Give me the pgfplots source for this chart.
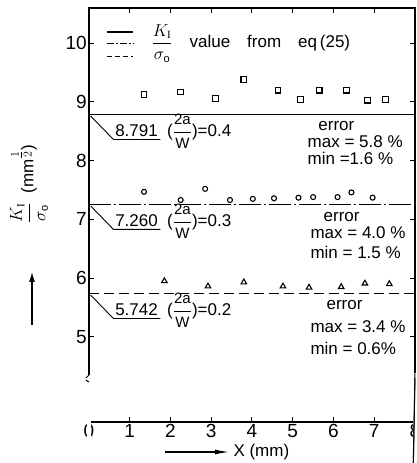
\documentclass[border=0pt]{standalone}
\usepackage{pgfplots}
\pgfplotsset{compat=1.18}
\usepackage{amsmath}
\usepackage{fontspec}
\setmainfont{Liberation Sans}
\newfontfamily\serf{Liberation Serif}
\usetikzlibrary{arrows.meta}
\newcommand\fr[2]{(\ensuremath{\dfrac{\text{\fontsize{15}{15}\selectfont #1}}{\text{\fontsize{15}{15}\selectfont #2}}})}
\newcommand\kfr{\ensuremath{\dfrac{K_\text{\serf\fontsize{11}{11}\selectfont I}}{\sigma_\text{\fontsize{11}{11}\selectfont o}}}}
\begin{document}
\begin{tikzpicture}[font=\fontsize{17}{20}\selectfont]
\begin{axis}[at={(0,0)},anchor=south west, scale only axis, width=326pt, height=414pt,
 xmin=0,xmax=8,ymin=3.55,ymax=10.6,
 xtick={0,...,8}, ytick={5,...,10},
 tick align=inside, major tick length=5pt,
 axis line style={line width=1.3pt}, tick style={line width=1pt,black},
 ticklabel style={font=\fontsize{19}{20}\selectfont, inner sep=2pt},
 /pgf/number format/assume math mode=true,
 clip=false,
 ]
% reference lines
\addplot[black, line width=1.2pt] coordinates {(0,8.791) (8,8.791)};
\addplot[black, line width=1.2pt, dash pattern=on 22pt off 3pt on 2pt off 3pt] coordinates {(0,7.260) (8,7.260)};
\addplot[black, line width=1.2pt, dash pattern=on 10pt off 5pt] coordinates {(0,5.742) (8,5.742)};
% data 2a/W = 0.4
\addplot[only marks, mark=square, mark size=2.8pt, mark options={line width=1.1pt}] coordinates {
(1.35,9.13) (2.25,9.17) (3.11,9.06) (3.80,9.38) (4.64,9.20) (5.19,9.04) (5.65,9.20) (6.32,9.20) (6.84,9.03) (7.28,9.04)};
% 0.3
\addplot[only marks, mark=o, mark size=2.5pt, mark options={line width=1.1pt}] coordinates {
(1.35,7.47) (2.25,7.33) (2.85,7.52) (3.46,7.33) (4.02,7.35) (4.54,7.36) (5.14,7.37) (5.50,7.38) (6.10,7.38) (6.44,7.46) (6.96,7.37)};
% 0.2
\addplot[only marks, mark=triangle, mark size=3.2pt, mark options={line width=1.1pt}] coordinates {
(1.85,5.95) (2.92,5.86) (3.80,5.93) (4.76,5.86) (5.40,5.84) (6.19,5.85) (6.77,5.91) (7.37,5.90)};
% legend
\addplot[black, line width=1.2pt] coordinates {(0.44,10.19) (1.09,10.19)};
\addplot[black, line width=1.2pt, dash pattern=on 7pt off 2pt on 2pt off 2pt] coordinates {(0.44,10.0) (1.09,10.0)};
\addplot[black, line width=1.2pt, dash pattern=on 5pt off 3pt] coordinates {(0.44,9.77) (1.09,9.77)};
\node[anchor=west] at (axis cs:1.45,10.0) {\kfr\quad value\quad from\quad eq\,(25)};
% leaders
\foreach \v/\lab/\r in {8.791/8.791/0.4, 7.260/7.260/0.3, 5.742/5.742/0.2}{
  \edef\temp{\noexpand\draw[line width=0.9pt] (axis cs:0.04,\v-0.03) -- (axis cs:0.6,\v-0.43) -- (axis cs:1.75,\v-0.43);
  \noexpand\node[anchor=base west, inner sep=0pt] at (axis cs:0.64,\v-0.38) {\lab\ \ \noexpand\fr{2a}{W}=\r};}
  \temp
}
% errors
\node at (axis cs:6.07,8.59) {error};
\node[anchor=west] at (axis cs:5.28,8.32) {max = 5.8 \%};
\node[anchor=west] at (axis cs:5.28,8.03) {min =1.6 \%};
\node at (axis cs:6.2,7.04) {error};
\node[anchor=west] at (axis cs:5.35,6.77) {max = 4.0 \%};
\node[anchor=west] at (axis cs:5.35,6.44) {min = 1.5 \%};
\node at (axis cs:6.27,5.54) {error};
\node[anchor=west] at (axis cs:5.35,5.17) {max = 3.4 \%};
\node[anchor=west] at (axis cs:5.35,4.81) {min = 0.6\%};
% axis breaks
\fill[white] (axis cs:0,4.23) ++(-2pt,0) rectangle ([xshift=2pt]axis cs:0,4.35);
\draw[line width=1pt] (axis cs:0,4.35) -- ++(-3pt,-3pt);
\draw[line width=1pt] (axis cs:0,4.23) -- ++(-3pt,2pt);
\fill[white] (axis cs:8,4.30) ++(-2pt,0) rectangle ([xshift=2pt]axis cs:8,4.38);
\draw[line width=1pt] (axis cs:8,4.38) -- ++(-4pt,0);
\draw[line width=1pt] (axis cs:8,4.30) -- ++(-4pt,0);
\end{axis}
% axis labels
\node[rotate=90] at (-60pt,238pt) {\kfr\ \ (mm$^{\genfrac{}{}{}{1}{1}{2}}$)};
\draw[line width=1.2pt,-{Latex[length=10pt,width=6pt]}] (-57pt,97pt) -- (-57pt,150pt);
\draw[line width=1.2pt,-{Latex[length=14pt,width=5pt]}] (76pt,-30pt) -- (140pt,-30pt);
\node[anchor=west] at (141pt,-30pt) {X (mm)};
\pgfresetboundingbox
\path[use as bounding box] (-89pt,-41pt) rectangle (328pt,422pt);
\end{tikzpicture}
\end{document}
